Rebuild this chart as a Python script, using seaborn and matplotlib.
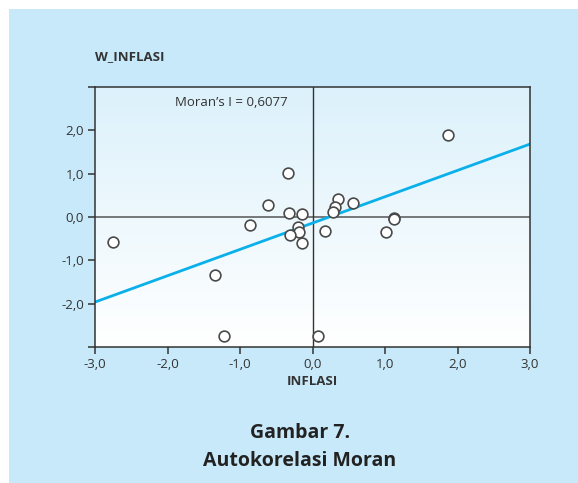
import numpy as np
import pandas as pd
import matplotlib
matplotlib.use("Agg")
import matplotlib.pyplot as plt
import seaborn as sns
from matplotlib.patches import Rectangle

# ------------------------------
# Data
# ------------------------------
inflasi = [-2.75, -0.34, -0.61, -0.32, -0.15, -0.86, -0.20, -0.19, -0.31, -0.15,
           -1.35, 0.17, 1.87, 0.35, 0.31, 0.28, 0.56, 1.12, 1.13, 1.01, -1.22, 0.07]
w_inflasi = [-0.58, 1.01, 0.27, 0.09, 0.06, -0.19, -0.23, -0.34, -0.41, -0.61,
             -1.34, -0.32, 1.89, 0.41, 0.22, 0.12, 0.32, -0.03, -0.05, -0.35, -2.74, -2.74]
moran_i = 0.6077
intercept = -0.14
x_ticks = [-3, -2, -1, 0, 1, 2, 3]
y_ticks = [-3, -2, -1, 0, 1, 2, 3]
y_labelled = [-2, -1, 0, 1, 2]

df = pd.DataFrame({"INFLASI": inflasi, "W_INFLASI": w_inflasi})

sns.set_style("ticks")
plt.rcParams['font.family'] = ['Open Sans', 'DejaVu Sans']

fig = plt.figure(figsize=(5.78, 4.83), dpi=100, facecolor="white")
# light blue panel behind everything
fig.patches.append(Rectangle((9 / 578, 0), 1, 1 - 9 / 483, transform=fig.transFigure,
                             facecolor="#c8e9f9", edgecolor="none", zorder=-10))

ax = fig.add_axes([95 / 578, 1 - 347 / 483, 435 / 578, 260 / 483])
ax.set_zorder(1)

# vertical gradient inside the plot area
grad = np.linspace(0, 1, 256).reshape(-1, 1)
cmap = matplotlib.colors.LinearSegmentedColormap.from_list("bg", ["#ffffff", "#dcf1fb"])
ax.imshow(grad, extent=[0, 1, 0, 1], transform=ax.transAxes, origin="lower",
          aspect="auto", cmap=cmap, zorder=0)
ax.set_xlim(-3, 3)
ax.set_ylim(-3, 3)

ax.axhline(0, color="#555555", lw=1.1, zorder=1)
ax.axvline(0, color="#333333", lw=1.0, zorder=1)

xs = np.array([-3, 3])
ax.plot(xs, intercept + moran_i * xs, color="#0ab0ea", lw=2.0, zorder=2)

sns.scatterplot(data=df, x="INFLASI", y="W_INFLASI", ax=ax, s=60, marker="o",
                facecolor="white", edgecolor="#4a4a4a", linewidth=1.2, zorder=3)

ax.set_xticks(x_ticks)
ax.set_xticklabels([f"{v:.1f}".replace(".", ",") for v in x_ticks])
ax.set_yticks(y_ticks)
ax.set_yticklabels([f"{v:.1f}".replace(".", ",") if v in y_labelled else "" for v in y_ticks])
ax.tick_params(direction="out", length=5, width=1.1, color="#333333",
               labelsize=9.5, labelcolor="#333333", pad=3)
for s in ax.spines.values():
    s.set_color("#333333")
    s.set_linewidth(1.1)

ax.set_xlabel("INFLASI", fontsize=9.5, fontweight="bold", color="#333333", labelpad=3)
ax.set_ylabel("")
fig.text(95 / 578, 1 - 57 / 483, "W_INFLASI", fontsize=9.5, fontweight="bold",
         color="#333333", va="center", ha="left")

ax.text(-1.9, 2.65, "Moran\u2019s I = 0,6077", fontsize=9.5, color="#333333",
        va="center", ha="left", zorder=4)

fig.text(300 / 578, 1 - 433 / 483, "Gambar 7.", fontsize=14, fontweight="bold",
         color="#222222", ha="center", va="center")
fig.text(300 / 578, 1 - 461 / 483, "Autokorelasi Moran", fontsize=14, fontweight="bold",
         color="#222222", ha="center", va="center")

fig.savefig("out.png", dpi=100, facecolor=fig.get_facecolor())
